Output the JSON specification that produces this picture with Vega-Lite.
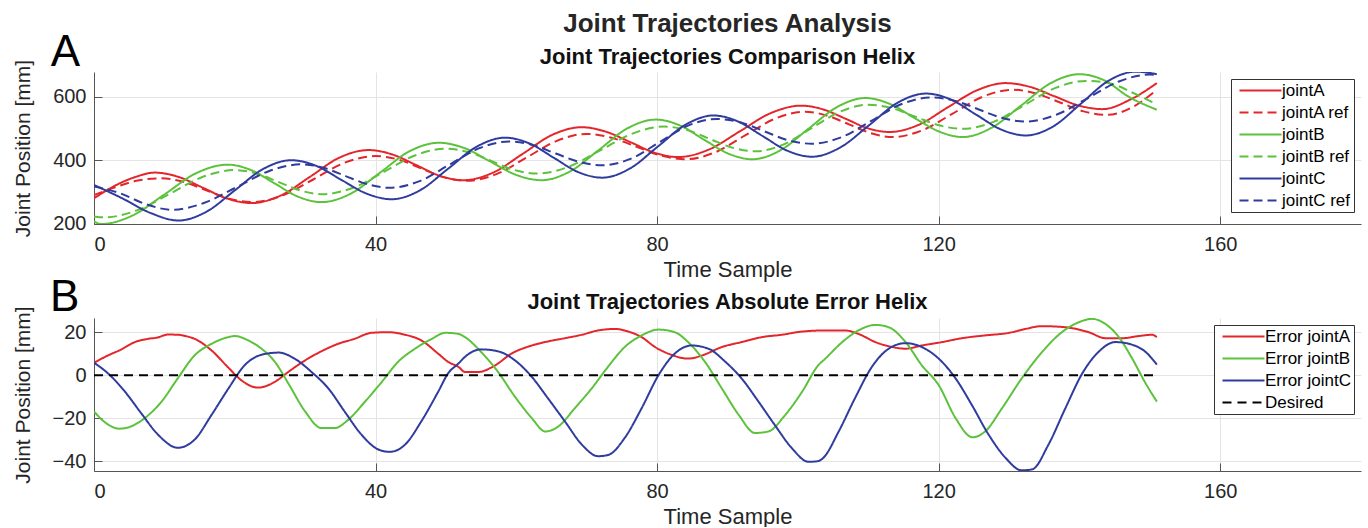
{
  "$schema": "https://vega.github.io/schema/vega-lite/v6.json",
  "background": "white",
  "padding": {"left": 12, "top": 11, "right": 4, "bottom": 0},
  "datasets": {
    "traj": [
      {"series":"jointA","time":0,"value":280},{"series":"jointA","time":3,"value":320},{"series":"jointA","time":6,"value":348},{"series":"jointA","time":8.6,"value":361},{"series":"jointA","time":12.05,"value":347},{"series":"jointA","time":15.5,"value":313},{"series":"jointA","time":18.95,"value":279},{"series":"jointA","time":22.4,"value":265},{"series":"jointA","time":26.55,"value":289},{"series":"jointA","time":30.7,"value":348},{"series":"jointA","time":34.85,"value":408},{"series":"jointA","time":39,"value":432},{"series":"jointA","time":42.4,"value":418},{"series":"jointA","time":45.75,"value":385},{"series":"jointA","time":49.1,"value":351},{"series":"jointA","time":52.5,"value":337},{"series":"jointA","time":56.7,"value":361},{"series":"jointA","time":60.9,"value":420},{"series":"jointA","time":65.1,"value":480},{"series":"jointA","time":69.3,"value":504},{"series":"jointA","time":72.7,"value":490},{"series":"jointA","time":76.2,"value":457},{"series":"jointA","time":79.6,"value":424},{"series":"jointA","time":83,"value":410},{"series":"jointA","time":87.4,"value":434},{"series":"jointA","time":91.75,"value":491},{"series":"jointA","time":96.1,"value":548},{"series":"jointA","time":100.5,"value":572},{"series":"jointA","time":103.6,"value":560},{"series":"jointA","time":106.75,"value":531},{"series":"jointA","time":109.9,"value":501},{"series":"jointA","time":113,"value":489},{"series":"jointA","time":117.1,"value":511},{"series":"jointA","time":121.25,"value":566},{"series":"jointA","time":125.4,"value":620},{"series":"jointA","time":129.5,"value":643},{"series":"jointA","time":133,"value":631},{"series":"jointA","time":136.4,"value":602},{"series":"jointA","time":139.8,"value":573},{"series":"jointA","time":143.3,"value":561},{"series":"jointA","time":147.3,"value":592},{"series":"jointA","time":151,"value":643},
      {"series":"jointA ref","time":0,"value":290},{"series":"jointA ref","time":3,"value":315},{"series":"jointA ref","time":6,"value":335},{"series":"jointA ref","time":9.5,"value":343},{"series":"jointA ref","time":12.7,"value":332},{"series":"jointA ref","time":15.95,"value":305},{"series":"jointA ref","time":19.2,"value":279},{"series":"jointA ref","time":22.4,"value":268},{"series":"jointA ref","time":26.8,"value":289},{"series":"jointA ref","time":31.2,"value":340},{"series":"jointA ref","time":35.6,"value":392},{"series":"jointA ref","time":40,"value":413},{"series":"jointA ref","time":43.25,"value":402},{"series":"jointA ref","time":46.5,"value":374},{"series":"jointA ref","time":49.75,"value":346},{"series":"jointA ref","time":53,"value":335},{"series":"jointA ref","time":57.25,"value":357},{"series":"jointA ref","time":61.5,"value":409},{"series":"jointA ref","time":65.75,"value":461},{"series":"jointA ref","time":70,"value":483},{"series":"jointA ref","time":73.5,"value":471},{"series":"jointA ref","time":77,"value":443},{"series":"jointA ref","time":80.5,"value":415},{"series":"jointA ref","time":84,"value":403},{"series":"jointA ref","time":88.25,"value":425},{"series":"jointA ref","time":92.5,"value":478},{"series":"jointA ref","time":96.75,"value":531},{"series":"jointA ref","time":101,"value":553},{"series":"jointA ref","time":104.1,"value":541},{"series":"jointA ref","time":107.25,"value":513},{"series":"jointA ref","time":110.4,"value":485},{"series":"jointA ref","time":113.5,"value":473},{"series":"jointA ref","time":117.75,"value":495},{"series":"jointA ref","time":122,"value":547},{"series":"jointA ref","time":126.25,"value":600},{"series":"jointA ref","time":130.5,"value":622},{"series":"jointA ref","time":133.9,"value":610},{"series":"jointA ref","time":137.25,"value":582},{"series":"jointA ref","time":140.6,"value":554},{"series":"jointA ref","time":144,"value":543},{"series":"jointA ref","time":147.5,"value":567},{"series":"jointA ref","time":151,"value":622},
      {"series":"jointB","time":0,"value":207},{"series":"jointB","time":1,"value":199},{"series":"jointB","time":5.5,"value":226},{"series":"jointB","time":10,"value":292},{"series":"jointB","time":14.5,"value":359},{"series":"jointB","time":19,"value":386},{"series":"jointB","time":22.3,"value":369},{"series":"jointB","time":25.65,"value":327},{"series":"jointB","time":29,"value":285},{"series":"jointB","time":32.3,"value":268},{"series":"jointB","time":36.5,"value":295},{"series":"jointB","time":40.65,"value":361},{"series":"jointB","time":44.8,"value":428},{"series":"jointB","time":49,"value":455},{"series":"jointB","time":52.65,"value":438},{"series":"jointB","time":56.3,"value":396},{"series":"jointB","time":59.95,"value":354},{"series":"jointB","time":63.6,"value":337},{"series":"jointB","time":67.65,"value":365},{"series":"jointB","time":71.7,"value":432},{"series":"jointB","time":75.75,"value":500},{"series":"jointB","time":79.8,"value":528},{"series":"jointB","time":83.2,"value":510},{"series":"jointB","time":86.65,"value":465},{"series":"jointB","time":90.1,"value":421},{"series":"jointB","time":93.5,"value":403},{"series":"jointB","time":97.5,"value":431},{"series":"jointB","time":101.55,"value":500},{"series":"jointB","time":105.6,"value":568},{"series":"jointB","time":109.6,"value":596},{"series":"jointB","time":113,"value":578},{"series":"jointB","time":116.5,"value":534},{"series":"jointB","time":120,"value":491},{"series":"jointB","time":123.4,"value":473},{"series":"jointB","time":127.5,"value":502},{"series":"jointB","time":131.7,"value":572},{"series":"jointB","time":135.85,"value":642},{"series":"jointB","time":140,"value":671},{"series":"jointB","time":143.5,"value":652},{"series":"jointB","time":147,"value":600},{"series":"jointB","time":151,"value":559},
      {"series":"jointB ref","time":0,"value":223},{"series":"jointB ref","time":1.5,"value":220},{"series":"jointB ref","time":6.1,"value":242},{"series":"jointB ref","time":10.75,"value":294},{"series":"jointB ref","time":15.4,"value":347},{"series":"jointB ref","time":20,"value":369},{"series":"jointB ref","time":23.1,"value":358},{"series":"jointB ref","time":26.25,"value":331},{"series":"jointB ref","time":29.4,"value":304},{"series":"jointB ref","time":32.5,"value":293},{"series":"jointB ref","time":36.9,"value":314},{"series":"jointB ref","time":41.25,"value":364},{"series":"jointB ref","time":45.6,"value":415},{"series":"jointB ref","time":50,"value":436},{"series":"jointB ref","time":53.25,"value":425},{"series":"jointB ref","time":56.5,"value":397},{"series":"jointB ref","time":59.75,"value":369},{"series":"jointB ref","time":63,"value":358},{"series":"jointB ref","time":67.5,"value":380},{"series":"jointB ref","time":72,"value":432},{"series":"jointB ref","time":76.5,"value":484},{"series":"jointB ref","time":81,"value":506},{"series":"jointB ref","time":84.25,"value":495},{"series":"jointB ref","time":87.5,"value":467},{"series":"jointB ref","time":90.75,"value":439},{"series":"jointB ref","time":94,"value":428},{"series":"jointB ref","time":98,"value":450},{"series":"jointB ref","time":102,"value":502},{"series":"jointB ref","time":106,"value":553},{"series":"jointB ref","time":110,"value":575},{"series":"jointB ref","time":113.35,"value":564},{"series":"jointB ref","time":116.7,"value":537},{"series":"jointB ref","time":120.05,"value":510},{"series":"jointB ref","time":123.4,"value":499},{"series":"jointB ref","time":127.8,"value":521},{"series":"jointB ref","time":132.2,"value":574},{"series":"jointB ref","time":136.6,"value":628},{"series":"jointB ref","time":141,"value":650},{"series":"jointB ref","time":144.5,"value":641},{"series":"jointB ref","time":148,"value":608},{"series":"jointB ref","time":151,"value":576},
      {"series":"jointC","time":0,"value":322},{"series":"jointC","time":4,"value":280},{"series":"jointC","time":8,"value":234},{"series":"jointC","time":12,"value":210},{"series":"jointC","time":16,"value":238},{"series":"jointC","time":20,"value":305},{"series":"jointC","time":24,"value":372},{"series":"jointC","time":28,"value":400},{"series":"jointC","time":31.6,"value":382},{"series":"jointC","time":35.15,"value":338},{"series":"jointC","time":38.7,"value":295},{"series":"jointC","time":42.3,"value":277},{"series":"jointC","time":46.3,"value":305},{"series":"jointC","time":50.35,"value":374},{"series":"jointC","time":54.4,"value":443},{"series":"jointC","time":58.4,"value":471},{"series":"jointC","time":61.85,"value":453},{"series":"jointC","time":65.3,"value":408},{"series":"jointC","time":68.75,"value":363},{"series":"jointC","time":72.2,"value":345},{"series":"jointC","time":76.15,"value":374},{"series":"jointC","time":80.1,"value":443},{"series":"jointC","time":84.05,"value":512},{"series":"jointC","time":88,"value":541},{"series":"jointC","time":91.5,"value":522},{"series":"jointC","time":95,"value":476},{"series":"jointC","time":98.5,"value":430},{"series":"jointC","time":102,"value":411},{"series":"jointC","time":106,"value":440},{"series":"jointC","time":110.1,"value":510},{"series":"jointC","time":114.15,"value":581},{"series":"jointC","time":118.2,"value":610},{"series":"jointC","time":121.75,"value":591},{"series":"jointC","time":125.3,"value":544},{"series":"jointC","time":128.85,"value":497},{"series":"jointC","time":132.4,"value":478},{"series":"jointC","time":136.3,"value":507},{"series":"jointC","time":140.2,"value":578},{"series":"jointC","time":144.1,"value":650},{"series":"jointC","time":148,"value":679},{"series":"jointC","time":151,"value":671},
      {"series":"jointC ref","time":0,"value":317},{"series":"jointC ref","time":3.7,"value":296},{"series":"jointC ref","time":7.3,"value":262},{"series":"jointC ref","time":11,"value":244},{"series":"jointC ref","time":15.6,"value":265},{"series":"jointC ref","time":20.25,"value":315},{"series":"jointC ref","time":24.9,"value":366},{"series":"jointC ref","time":29.5,"value":387},{"series":"jointC ref","time":32.6,"value":376},{"series":"jointC ref","time":35.75,"value":350},{"series":"jointC ref","time":38.9,"value":324},{"series":"jointC ref","time":42,"value":313},{"series":"jointC ref","time":46.25,"value":334},{"series":"jointC ref","time":50.5,"value":386},{"series":"jointC ref","time":54.75,"value":438},{"series":"jointC ref","time":59,"value":459},{"series":"jointC ref","time":62.3,"value":448},{"series":"jointC ref","time":65.6,"value":421},{"series":"jointC ref","time":68.9,"value":395},{"series":"jointC ref","time":72.2,"value":384},{"series":"jointC ref","time":76.3,"value":405},{"series":"jointC ref","time":80.35,"value":457},{"series":"jointC ref","time":84.4,"value":509},{"series":"jointC ref","time":88.5,"value":530},{"series":"jointC ref","time":91.9,"value":519},{"series":"jointC ref","time":95.25,"value":491},{"series":"jointC ref","time":98.6,"value":463},{"series":"jointC ref","time":102,"value":452},{"series":"jointC ref","time":106.25,"value":473},{"series":"jointC ref","time":110.5,"value":525},{"series":"jointC ref","time":114.75,"value":577},{"series":"jointC ref","time":119,"value":598},{"series":"jointC ref","time":122.35,"value":587},{"series":"jointC ref","time":125.7,"value":560},{"series":"jointC ref","time":129.05,"value":533},{"series":"jointC ref","time":132.4,"value":522},{"series":"jointC ref","time":136.8,"value":544},{"series":"jointC ref","time":141.2,"value":596},{"series":"jointC ref","time":145.6,"value":648},{"series":"jointC ref","time":150,"value":670},{"series":"jointC ref","time":151,"value":669}
    ],
    "err": [
      {"series":"Error jointA","time":0,"value":5.8},{"series":"Error jointA","time":2,"value":9.2},{"series":"Error jointA","time":3.9,"value":12},{"series":"Error jointA","time":5.8,"value":15.4},{"series":"Error jointA","time":7.7,"value":16.9},{"series":"Error jointA","time":9,"value":17.5},{"series":"Error jointA","time":10.5,"value":18.9},{"series":"Error jointA","time":11.9,"value":18.8},{"series":"Error jointA","time":13,"value":18.2},{"series":"Error jointA","time":14.3,"value":16.9},{"series":"Error jointA","time":16.7,"value":11.5},{"series":"Error jointA","time":19,"value":3.8},{"series":"Error jointA","time":20.9,"value":-2.3},{"series":"Error jointA","time":23.3,"value":-5.8},{"series":"Error jointA","time":25.7,"value":-3.1},{"series":"Error jointA","time":27.6,"value":1.5},{"series":"Error jointA","time":30,"value":6.9},{"series":"Error jointA","time":32.3,"value":11.1},{"series":"Error jointA","time":34.7,"value":14.6},{"series":"Error jointA","time":37,"value":16.9},{"series":"Error jointA","time":39.4,"value":19.7},{"series":"Error jointA","time":41.8,"value":20},{"series":"Error jointA","time":44.2,"value":18.8},{"series":"Error jointA","time":46.5,"value":16.2},{"series":"Error jointA","time":48.9,"value":10},{"series":"Error jointA","time":50.3,"value":6.2},{"series":"Error jointA","time":51.8,"value":3.8},{"series":"Error jointA","time":52.7,"value":1.5},{"series":"Error jointA","time":54.6,"value":1.5},{"series":"Error jointA","time":57,"value":4.6},{"series":"Error jointA","time":59.3,"value":10},{"series":"Error jointA","time":62.2,"value":13.8},{"series":"Error jointA","time":64.5,"value":15.7},{"series":"Error jointA","time":66.9,"value":17.2},{"series":"Error jointA","time":69.3,"value":18.8},{"series":"Error jointA","time":71.6,"value":20.8},{"series":"Error jointA","time":74,"value":21.5},{"series":"Error jointA","time":75.9,"value":20.3},{"series":"Error jointA","time":77.8,"value":17.7},{"series":"Error jointA","time":79.7,"value":13.1},{"series":"Error jointA","time":82,"value":9.5},{"series":"Error jointA","time":84.4,"value":7.7},{"series":"Error jointA","time":86.4,"value":9.2},{"series":"Error jointA","time":89.2,"value":13.1},{"series":"Error jointA","time":92,"value":15.4},{"series":"Error jointA","time":94.9,"value":17.7},{"series":"Error jointA","time":97.7,"value":18.8},{"series":"Error jointA","time":100.6,"value":20.3},{"series":"Error jointA","time":103.9,"value":20.8},{"series":"Error jointA","time":106.7,"value":20.8},{"series":"Error jointA","time":108.6,"value":19.2},{"series":"Error jointA","time":111,"value":15.4},{"series":"Error jointA","time":113.4,"value":13.1},{"series":"Error jointA","time":115.3,"value":12.3},{"series":"Error jointA","time":117.6,"value":13.8},{"series":"Error jointA","time":120.5,"value":15.4},{"series":"Error jointA","time":123.3,"value":17.2},{"series":"Error jointA","time":126.6,"value":18.5},{"series":"Error jointA","time":130,"value":19.7},{"series":"Error jointA","time":132.3,"value":21.5},{"series":"Error jointA","time":134.7,"value":22.8},{"series":"Error jointA","time":138,"value":22.3},{"series":"Error jointA","time":141.3,"value":20},{"series":"Error jointA","time":143.7,"value":17.2},{"series":"Error jointA","time":146.1,"value":17.2},{"series":"Error jointA","time":148.4,"value":18.2},{"series":"Error jointA","time":150.3,"value":18.8},{"series":"Error jointA","time":151,"value":17.7},
      {"series":"Error jointB","time":0,"value":-16.9},{"series":"Error jointB","time":2,"value":-23},{"series":"Error jointB","time":3.6,"value":-24.9},{"series":"Error jointB","time":5.3,"value":-23.8},{"series":"Error jointB","time":7.2,"value":-20},{"series":"Error jointB","time":9.6,"value":-12.3},{"series":"Error jointB","time":11.9,"value":-1.5},{"series":"Error jointB","time":14.3,"value":9.2},{"series":"Error jointB","time":16.7,"value":14.6},{"series":"Error jointB","time":19.1,"value":17.7},{"series":"Error jointB","time":20,"value":18.2},{"series":"Error jointB","time":21.9,"value":16.2},{"series":"Error jointB","time":23.8,"value":12.3},{"series":"Error jointB","time":25.7,"value":6.2},{"series":"Error jointB","time":27.6,"value":-3.8},{"series":"Error jointB","time":30,"value":-16.9},{"series":"Error jointB","time":32.3,"value":-24.6},{"series":"Error jointB","time":34.2,"value":-24.6},{"series":"Error jointB","time":36.1,"value":-20.8},{"series":"Error jointB","time":38.5,"value":-12.3},{"series":"Error jointB","time":40.9,"value":-3.1},{"series":"Error jointB","time":43.2,"value":6.2},{"series":"Error jointB","time":45.6,"value":12.3},{"series":"Error jointB","time":48,"value":16.9},{"series":"Error jointB","time":49.9,"value":19.7},{"series":"Error jointB","time":51.8,"value":19.2},{"series":"Error jointB","time":52.7,"value":17.7},{"series":"Error jointB","time":55,"value":10.8},{"series":"Error jointB","time":57.4,"value":1.5},{"series":"Error jointB","time":59.8,"value":-10},{"series":"Error jointB","time":62.2,"value":-20},{"series":"Error jointB","time":64.1,"value":-26.2},{"series":"Error jointB","time":66,"value":-23.8},{"series":"Error jointB","time":68.3,"value":-15.4},{"series":"Error jointB","time":70.7,"value":-6.2},{"series":"Error jointB","time":73,"value":3.8},{"series":"Error jointB","time":75.4,"value":13.1},{"series":"Error jointB","time":77.8,"value":18.5},{"series":"Error jointB","time":80.2,"value":21.2},{"series":"Error jointB","time":82.5,"value":20},{"series":"Error jointB","time":84.4,"value":15.4},{"series":"Error jointB","time":86.8,"value":6.2},{"series":"Error jointB","time":89.2,"value":-6.2},{"series":"Error jointB","time":91.6,"value":-18.5},{"series":"Error jointB","time":93.9,"value":-26.9},{"series":"Error jointB","time":95.8,"value":-26.2},{"series":"Error jointB","time":98.2,"value":-18.5},{"series":"Error jointB","time":100.6,"value":-7.7},{"series":"Error jointB","time":102.9,"value":4.6},{"series":"Error jointB","time":103.9,"value":7.7},{"series":"Error jointB","time":106.3,"value":15.4},{"series":"Error jointB","time":108.6,"value":20.8},{"series":"Error jointB","time":111,"value":23.4},{"series":"Error jointB","time":112.9,"value":22.3},{"series":"Error jointB","time":115.3,"value":15.4},{"series":"Error jointB","time":117.6,"value":4.6},{"series":"Error jointB","time":120,"value":-4.6},{"series":"Error jointB","time":122.4,"value":-20},{"series":"Error jointB","time":124.8,"value":-28.9},{"series":"Error jointB","time":126.6,"value":-26.2},{"series":"Error jointB","time":129,"value":-15.4},{"series":"Error jointB","time":131.8,"value":-1.5},{"series":"Error jointB","time":134.7,"value":10.8},{"series":"Error jointB","time":137.5,"value":20},{"series":"Error jointB","time":139.9,"value":24.6},{"series":"Error jointB","time":141.8,"value":26.2},{"series":"Error jointB","time":143.7,"value":23.8},{"series":"Error jointB","time":145.6,"value":17.7},{"series":"Error jointB","time":147.5,"value":7.7},{"series":"Error jointB","time":149.4,"value":-3.8},{"series":"Error jointB","time":151,"value":-12.3},
      {"series":"Error jointC","time":0,"value":5.8},{"series":"Error jointC","time":2,"value":0.8},{"series":"Error jointC","time":4.4,"value":-7.7},{"series":"Error jointC","time":6.7,"value":-17.7},{"series":"Error jointC","time":9.1,"value":-27.7},{"series":"Error jointC","time":11.9,"value":-33.8},{"series":"Error jointC","time":14.3,"value":-30},{"series":"Error jointC","time":16.7,"value":-18.5},{"series":"Error jointC","time":19.1,"value":-6.2},{"series":"Error jointC","time":21.4,"value":4.6},{"series":"Error jointC","time":23.8,"value":9.5},{"series":"Error jointC","time":26.2,"value":10.5},{"series":"Error jointC","time":28.5,"value":7.7},{"series":"Error jointC","time":30.9,"value":1.5},{"series":"Error jointC","time":33.3,"value":-6.2},{"series":"Error jointC","time":35.6,"value":-16.9},{"series":"Error jointC","time":38,"value":-27.7},{"series":"Error jointC","time":40.4,"value":-34.6},{"series":"Error jointC","time":42,"value":-35.7},{"series":"Error jointC","time":44.2,"value":-32.3},{"series":"Error jointC","time":46.5,"value":-21.5},{"series":"Error jointC","time":48.9,"value":-7.7},{"series":"Error jointC","time":50.3,"value":0.8},{"series":"Error jointC","time":51.8,"value":5.5},{"series":"Error jointC","time":52.7,"value":8.5},{"series":"Error jointC","time":55,"value":12},{"series":"Error jointC","time":57.4,"value":11.1},{"series":"Error jointC","time":59.8,"value":6.9},{"series":"Error jointC","time":62.2,"value":-0.8},{"series":"Error jointC","time":64.5,"value":-10.8},{"series":"Error jointC","time":66.9,"value":-21.5},{"series":"Error jointC","time":69.3,"value":-32.3},{"series":"Error jointC","time":71.6,"value":-37.7},{"series":"Error jointC","time":73,"value":-37.2},{"series":"Error jointC","time":75.4,"value":-29.2},{"series":"Error jointC","time":77.8,"value":-15.4},{"series":"Error jointC","time":80.2,"value":0},{"series":"Error jointC","time":82.5,"value":10},{"series":"Error jointC","time":84.9,"value":13.8},{"series":"Error jointC","time":87.3,"value":12.3},{"series":"Error jointC","time":89.7,"value":6.2},{"series":"Error jointC","time":92,"value":-1.5},{"series":"Error jointC","time":94.4,"value":-12.3},{"series":"Error jointC","time":96.7,"value":-23.1},{"series":"Error jointC","time":99.1,"value":-33.8},{"series":"Error jointC","time":101.5,"value":-40.3},{"series":"Error jointC","time":102.9,"value":-40},{"series":"Error jointC","time":103.6,"value":-38.5},{"series":"Error jointC","time":105.8,"value":-26.2},{"series":"Error jointC","time":108.1,"value":-10.8},{"series":"Error jointC","time":110.5,"value":3.8},{"series":"Error jointC","time":112.9,"value":12.3},{"series":"Error jointC","time":115.3,"value":14.9},{"series":"Error jointC","time":117.6,"value":13.1},{"series":"Error jointC","time":120,"value":7.7},{"series":"Error jointC","time":122.4,"value":-1.5},{"series":"Error jointC","time":124.7,"value":-13.8},{"series":"Error jointC","time":127.1,"value":-27.7},{"series":"Error jointC","time":129.5,"value":-38.5},{"series":"Error jointC","time":131.8,"value":-44.3},{"series":"Error jointC","time":133.3,"value":-43.8},{"series":"Error jointC","time":135.6,"value":-32.3},{"series":"Error jointC","time":138,"value":-15.4},{"series":"Error jointC","time":140.4,"value":0.8},{"series":"Error jointC","time":142.7,"value":10.8},{"series":"Error jointC","time":145.1,"value":15.4},{"series":"Error jointC","time":147,"value":14.6},{"series":"Error jointC","time":149.4,"value":10.8},{"series":"Error jointC","time":151,"value":4.9},
      {"series":"Desired","time":0,"value":0},{"series":"Desired","time":151,"value":0}
    ]
  },
  "config": {
    "font": "Liberation Sans",
    "view": {"stroke": null},
    "axis": {
      "labelFont": "Liberation Sans", "labelFontSize": 20, "labelColor": "#262626",
      "titleFont": "Liberation Sans", "titleFontSize": 21, "titleFontWeight": "normal", "titleColor": "#262626",
      "domainColor": "#555555", "domainWidth": 1, "gridColor": "#e4e4e4", "gridWidth": 1,
      "tickColor": "#555555", "tickSize": -8
    },
    "axisY": {"titlePadding": 19, "labelPadding": 16},
    "axisX": {"titlePadding": 5, "labelPadding": 18, "titleFontSize": 22},
    "legend": {
      "labelFont": "Liberation Sans", "labelFontSize": 17, "labelColor": "#000000",
      "symbolType": "M-1,0H13", "symbolSize": 36, "symbolStrokeWidth": 2,
      "labelOffset": 31, "padding": 3, "strokeColor": "#333333", "fillColor": "white",
      "rowPadding": 4, "offset": 7, "labelLimit": 400, "title": null
    },
    "title": {"font": "Liberation Sans", "fontWeight": "bold", "color": "#111111"}
  },
  "title": {"text": "Joint Trajectories Analysis", "fontSize": 26, "color": "#262626", "anchor": "middle", "frame": "group", "offset": -6},
  "spacing": -5,
  "resolve": {"scale": {"color": "independent", "strokeDash": "independent"}, "legend": {"color": "independent", "strokeDash": "independent"}},
  "vconcat": [
    {
      "title": {"text": "A", "anchor": "start", "frame": "bounds", "fontSize": 44, "fontWeight": "normal", "color": "#000000", "offset": -29, "dx": 38},
      "resolve": {"scale": {"color": "independent", "strokeDash": "independent"}, "legend": {"color": "independent", "strokeDash": "independent"}},
      "vconcat": [
        {
          "width": 1267, "height": 152,
          "title": {"text": "Joint Trajectories Comparison Helix", "fontSize": 22, "frame": "group", "anchor": "middle", "offset": -10},
          "data": {"name": "traj"},
          "mark": {"type": "line", "strokeWidth": 2, "interpolate": "monotone", "clip": true},
          "encoding": {
            "x": {"field": "time", "type": "quantitative", "scale": {"domain": [0, 180], "nice": false}, "axis": {"values": [0, 40, 80, 120, 160], "title": "Time Sample"}},
            "y": {"field": "value", "type": "quantitative", "scale": {"domain": [199, 678], "nice": false, "zero": false}, "axis": {"values": [200, 400, 600], "title": "Joint Position [mm]"}},
            "color": {"field": "series", "type": "nominal", "scale": {"domain": ["jointA", "jointA ref", "jointB", "jointB ref", "jointC", "jointC ref"], "range": ["#e3262b", "#e3262b", "#5cc23c", "#5cc23c", "#2f3c9e", "#2f3c9e"]}, "legend": {"orient": "top-right", "title": null}},
            "strokeDash": {"field": "series", "type": "nominal", "scale": {"domain": ["jointA", "jointA ref", "jointB", "jointB ref", "jointC", "jointC ref"], "range": [[1, 0], [9, 5], [1, 0], [9, 5], [1, 0], [9, 5]]}, "legend": {"orient": "top-right", "title": null}}
          }
        }
      ]
    },
    {
      "title": {"text": "B", "anchor": "start", "frame": "bounds", "fontSize": 44, "fontWeight": "normal", "color": "#000000", "offset": -29, "dx": 38},
      "resolve": {"scale": {"color": "independent", "strokeDash": "independent"}, "legend": {"color": "independent", "strokeDash": "independent"}},
      "vconcat": [
        {
          "width": 1267, "height": 153,
          "title": {"text": "Joint Trajectories Absolute Error Helix", "fontSize": 22, "frame": "group", "anchor": "middle", "offset": -8},
          "data": {"name": "err"},
          "mark": {"type": "line", "strokeWidth": 2, "interpolate": "monotone", "clip": true},
          "encoding": {
            "x": {"field": "time", "type": "quantitative", "scale": {"domain": [0, 180], "nice": false}, "axis": {"values": [0, 40, 80, 120, 160], "title": "Time Sample"}},
            "y": {"field": "value", "type": "quantitative", "scale": {"domain": [-44.6, 26.6], "nice": false, "zero": false}, "axis": {"values": [-40, -20, 0, 20], "title": "Joint Position [mm]"}},
            "color": {"field": "series", "type": "nominal", "scale": {"domain": ["Error jointA", "Error jointB", "Error jointC", "Desired"], "range": ["#e3262b", "#5cc23c", "#2f3c9e", "#000000"]}, "legend": {"orient": "top-right", "title": null}},
            "strokeDash": {"field": "series", "type": "nominal", "scale": {"domain": ["Error jointA", "Error jointB", "Error jointC", "Desired"], "range": [[1, 0], [1, 0], [1, 0], [9, 6]]}, "legend": {"orient": "top-right", "title": null}}
          }
        }
      ]
    }
  ]
}
